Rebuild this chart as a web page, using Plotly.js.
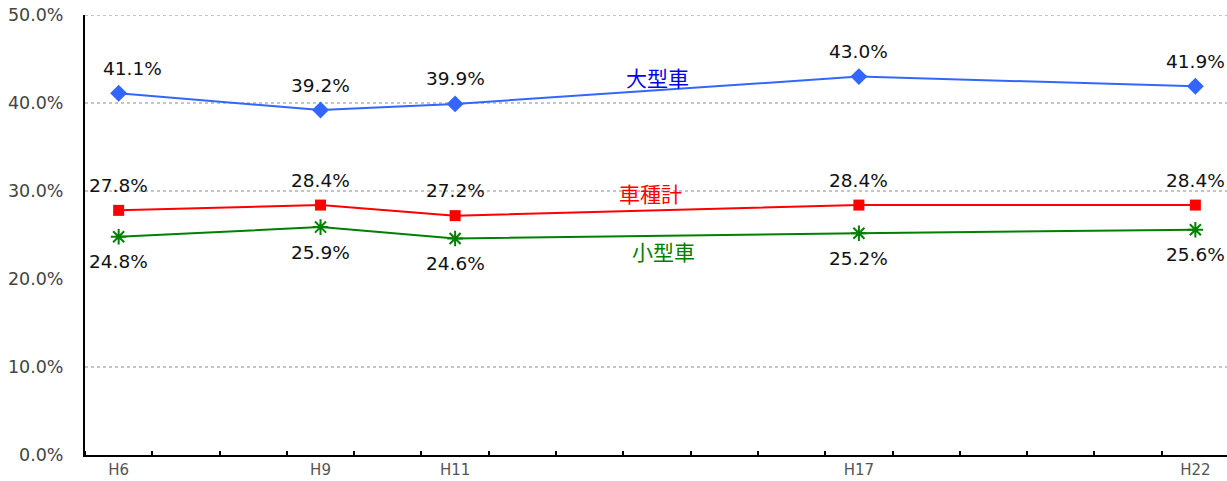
<!DOCTYPE html>
<html>
<head>
<meta charset="utf-8">
<script src="https://cdn.plot.ly/plotly-3.0.1.min.js"></script>
<style>
  html, body { margin: 0; padding: 0; background: #fff; }
  #chart { width: 1227px; height: 481px; }
</style>
</head>
<body>
<div id="chart"></div>
<script>
// ---- data ----
const years = [6, 9, 11, 17, 22];
const yearLabels = ["H6", "H9", "H11", "H17", "H22"];
const seriesNames = ["大型車", "車種計", "小型車"];
const large = [41.1, 39.2, 39.9, 43.0, 41.9];
const total = [27.8, 28.4, 27.2, 28.4, 28.4];
const small = [24.8, 25.9, 24.6, 25.2, 25.6];
const gridLevels = [10, 30, 40, 50];
const yTicks = [0, 10, 20, 30, 40, 50];

// name label anchor points (data coords)
const nameX = [14.0, 13.9, 14.1];
const nameY = [42.9, 29.8, 23.2];

// ---- styles ----
const colors = ["#3366ff", "#ff0000", "#008000"];
const labelFont = { family: "DejaVu Sans, Arial, sans-serif", size: 18.5, color: "#111" };

const traces = [
  { x: years, y: large, name: seriesNames[0], mode: "lines+markers",
    line: { color: colors[0], width: 2 },
    marker: { symbol: "diamond", size: 13, color: colors[0] } },
  { x: years, y: total, name: seriesNames[1], mode: "lines+markers",
    line: { color: colors[1], width: 2 },
    marker: { symbol: "square", size: 11, color: colors[1] } },
  { x: years, y: small, name: seriesNames[2], mode: "lines+markers",
    line: { color: colors[2], width: 2 },
    marker: { symbol: "asterisk-open", size: 13, color: colors[2], line: { color: colors[2], width: 2 } } }
];

const annotations = [];
const seriesVals = [large, total, small];
const ysh = [25, 25, -25];
const xsh = [[14, 0, 0, 0, 0], [0, 0, 0, 0, 0], [0, 0, 0, 0, 0]];
seriesVals.forEach((vals, s) => {
  vals.forEach((v, i) => {
    annotations.push({
      x: years[i], y: v, xref: "x", yref: "y",
      text: v.toFixed(1) + "%", showarrow: false,
      yshift: ysh[s], xshift: xsh[s][i],
      font: labelFont, xanchor: "center", yanchor: "middle"
    });
  });
});
seriesNames.forEach((n, s) => {
  annotations.push({
    x: nameX[s], y: nameY[s], xref: "x", yref: "y",
    text: n, showarrow: false, xanchor: "center", yanchor: "middle",
    font: { family: "Noto Sans CJK JP, sans-serif", size: 21, color: s === 0 ? "#0000ee" : colors[s] }
  });
});

const shapes = gridLevels.map(g => ({
  type: "line", xref: "paper", yref: "y", x0: 0, x1: 1, y0: g, y1: g,
  line: { color: "#8a8a8a", width: 1, dash: "dot" }, layer: "below"
}));

const layout = {
  width: 1227, height: 481,
  margin: { l: 85, r: 0, t: 15, b: 26, pad: 0 },
  paper_bgcolor: "#fff", plot_bgcolor: "#fff",
  showlegend: false,
  xaxis: {
    range: [5.5, 22.47], tickvals: years, ticktext: yearLabels,
    showgrid: false, zeroline: false, showline: true, linecolor: "#000", linewidth: 2,
    ticks: "", ticklabelstandoff: 0,
    tickfont: { family: "DejaVu Sans, Arial, sans-serif", size: 15, color: "#555" },
    minor: { tick0: 5.5, dtick: 1, ticks: "inside", ticklen: 4, tickcolor: "#000", tickwidth: 2, showgrid: false }
  },
  yaxis: {
    range: [0, 50], tickvals: yTicks, ticktext: yTicks.map(t => t.toFixed(1) + "%"),
    showgrid: false, zeroline: false, showline: true, linecolor: "#000", linewidth: 2,
    ticks: "", ticklabelstandoff: 16,
    tickfont: { family: "DejaVu Sans, Arial, sans-serif", size: 17.5, color: "#444" }
  },
  shapes: shapes,
  annotations: annotations
};

Plotly.newPlot("chart", traces, layout, { displayModeBar: false, staticPlot: true });
</script>
</body>
</html>
